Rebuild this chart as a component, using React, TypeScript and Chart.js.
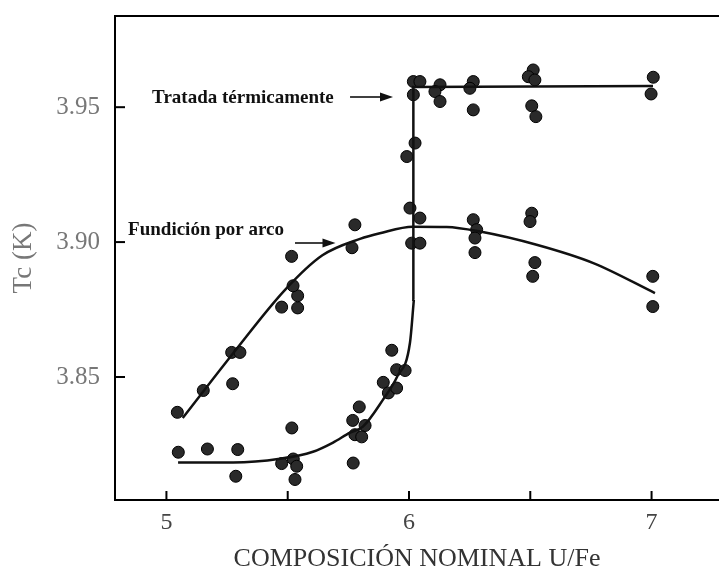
import { useEffect, useRef } from 'react';
import { Chart, registerables } from 'chart.js';

Chart.register(...registerables);

// Tratada térmicamente: measured points
const tratX = [5.049, 5.169, 5.294, 5.286, 5.517, 5.475, 5.523, 5.537, 5.53, 5.77, 5.768, 5.795, 5.819, 5.777, 5.805, 5.894, 5.915, 5.949, 5.929, 5.949, 5.984, 5.991, 6.025, 6.018, 6.045, 6.018, 6.128, 6.107, 6.128, 6.265, 6.251, 6.265, 6.512, 6.492, 6.519, 6.506, 6.523, 7.007, 6.998];
const tratY = [3.8221, 3.8233, 3.8231, 3.8132, 3.8311, 3.8179, 3.8196, 3.8169, 3.812, 3.8181, 3.8339, 3.8389, 3.832, 3.8286, 3.8278, 3.848, 3.8441, 3.8459, 3.8599, 3.8527, 3.8524, 3.9317, 3.9367, 3.9595, 3.9595, 3.9546, 3.9583, 3.9558, 3.9521, 3.9595, 3.957, 3.949, 3.9638, 3.9613, 3.9601, 3.9505, 3.9465, 3.9611, 3.9549];

// Fundición por arco: measured points
const fundX = [5.045, 5.152, 5.269, 5.303, 5.273, 5.475, 5.541, 5.541, 5.522, 5.516, 5.777, 5.765, 6.004, 6.045, 6.011, 6.045, 6.265, 6.279, 6.272, 6.272, 6.506, 6.499, 6.519, 6.51, 7.005, 7.005];
const fundY = [3.8369, 3.845, 3.8591, 3.8591, 3.8475, 3.8759, 3.8756, 3.8801, 3.8838, 3.8947, 3.9064, 3.8979, 3.9126, 3.9089, 3.8996, 3.8996, 3.9083, 3.9046, 3.9015, 3.8961, 3.9107, 3.9076, 3.8924, 3.8873, 3.8873, 3.8761];

// Fitted curves
const tratCurveX = [5.048, 5.275, 5.468, 5.604, 5.687, 5.757, 5.81, 5.893, 5.951, 6.004, 6.02];
const tratCurveY = [3.8183, 3.8183, 3.8197, 3.8223, 3.8257, 3.8294, 3.8316, 3.8416, 3.8501, 3.8627, 3.8786];
const tratStepX = [6.02, 6.018, 7.006];
const tratStepY = [3.8786, 3.9575, 3.9579];
const fundCurveX = [5.067, 5.276, 5.489, 5.643, 5.798, 5.88, 6.016, 6.155, 6.293, 6.526, 6.76, 7.014];
const fundCurveY = [3.8348, 3.8589, 3.8823, 3.8951, 3.9012, 3.9033, 3.9057, 3.9056, 3.9039, 3.899, 3.8922, 3.8811];

const yTickValues = [3.85, 3.9, 3.95];
const xAxisTitle = 'COMPOSICIÓN NOMINAL U/Fe';
const yAxisTitle = 'Tc (K)';
const labelTexts = ['Tratada térmicamente', 'Fundición por arco'];

// annotation placement (data coordinates)
const annotationPos = [
  { tx: 4.941, ty: 3.9534, ax0: 5.757, ax1: 5.934, ay: 3.9538 },
  { tx: 4.842, ty: 3.9046, ax0: 5.53, ax1: 5.697, ay: 3.8997 },
];

const SERIF = '"Liberation Serif", "DejaVu Serif", serif';

const zip = (xs: number[], ys: number[]) => xs.map((x, i) => ({ x, y: ys[i] }));

const zeroPad = (s: any) => {
  s.paddingTop = 0;
  s.paddingBottom = 0;
  s.paddingLeft = 0;
  s.paddingRight = 0;
};

const decorPlugin = {
  id: 'decor',
  afterDraw(chart: any) {
    const { ctx, chartArea } = chart;
    const xs = chart.scales.x;
    const ys = chart.scales.y;
    ctx.save();
    ctx.strokeStyle = '#000';
    ctx.lineWidth = 2;
    xs.ticks.forEach((t: any) => {
      const px = xs.getPixelForValue(t.value);
      ctx.beginPath();
      ctx.moveTo(px, chartArea.bottom);
      ctx.lineTo(px, chartArea.bottom - 9);
      ctx.stroke();
    });
    ys.ticks.forEach((t: any) => {
      const py = ys.getPixelForValue(t.value);
      ctx.beginPath();
      ctx.moveTo(chartArea.left, py);
      ctx.lineTo(chartArea.left + 10, py);
      ctx.stroke();
    });
    ctx.fillStyle = '#111';
    ctx.font = `bold 19px ${SERIF}`;
    ctx.textBaseline = 'middle';
    ctx.textAlign = 'left';
    annotationPos.forEach((a, i) => {
      ctx.fillText(labelTexts[i], xs.getPixelForValue(a.tx), ys.getPixelForValue(a.ty));
      const x0 = xs.getPixelForValue(a.ax0);
      const x1 = xs.getPixelForValue(a.ax1);
      const y = ys.getPixelForValue(a.ay);
      ctx.lineWidth = 1.5;
      ctx.beginPath();
      ctx.moveTo(x0, y);
      ctx.lineTo(x1 - 8, y);
      ctx.stroke();
      ctx.beginPath();
      ctx.moveTo(x1, y);
      ctx.lineTo(x1 - 13, y - 4.5);
      ctx.lineTo(x1 - 13, y + 4.5);
      ctx.closePath();
      ctx.fill();
    });
    ctx.restore();
  },
};

export default function App() {
  const ref = useRef<HTMLCanvasElement | null>(null);
  useEffect(() => {
    document.body.style.margin = '0';
    document.body.style.background = '#fff';
    if (!ref.current) return;
    const lineStyle = { showLine: true, pointRadius: 0, borderColor: '#111', borderWidth: 2.5, fill: false };
    const pointStyle = { showLine: false, pointRadius: 6, pointHoverRadius: 6, backgroundColor: '#2a2a2a', borderColor: '#000', borderWidth: 1 };
    const chart = new Chart(ref.current, {
      type: 'scatter',
      data: {
        datasets: [
          { ...lineStyle, data: zip(tratCurveX, tratCurveY), cubicInterpolationMode: 'monotone' } as any,
          { ...lineStyle, data: zip(tratStepX, tratStepY), tension: 0 } as any,
          { ...lineStyle, data: zip(fundCurveX, fundCurveY), cubicInterpolationMode: 'monotone' } as any,
          { ...pointStyle, data: zip(tratX, tratY) } as any,
          { ...pointStyle, data: zip(fundX, fundY) } as any,
        ],
      },
      options: {
        responsive: false,
        animation: false,
        layout: { padding: 0, autoPadding: false },
        plugins: { legend: { display: false }, tooltip: { enabled: false } },
        scales: {
          x: {
            type: 'linear',
            position: 'bottom',
            min: 4.788,
            max: 7.278,
            border: { display: true, color: '#000', width: 2 },
            grid: { display: false, drawTicks: false },
            ticks: {
              stepSize: 0.5,
              includeBounds: false,
              autoSkip: false,
              maxRotation: 0,
              padding: 8,
              color: '#444',
              font: { family: SERIF, size: 24 },
              callback: (v: any) => (Math.abs(v - Math.round(v)) < 1e-6 ? String(Math.round(v)) : ''),
            },
            title: { display: true, text: xAxisTitle, color: '#333', font: { family: SERIF, size: 26 }, padding: { top: 0, bottom: 0 } },
            afterFit: (s: any) => { s.height = 75; zeroPad(s); },
          },
          x2: {
            type: 'linear',
            position: 'top',
            min: 0,
            max: 1,
            border: { display: true, color: '#000', width: 2 },
            grid: { display: false, drawTicks: false },
            ticks: { display: false },
            afterFit: (s: any) => { s.height = 16; zeroPad(s); },
          },
          y: {
            type: 'linear',
            position: 'left',
            min: 3.8044,
            max: 3.9838,
            border: { display: true, color: '#000', width: 2 },
            grid: { display: false, drawTicks: false },
            afterBuildTicks: (s: any) => { s.ticks = yTickValues.map((v) => ({ value: v })); },
            ticks: {
              padding: 15,
              color: '#777',
              font: { family: SERIF, size: 25 },
              callback: (v: any) => Number(v).toFixed(2),
            },
            title: { display: true, text: yAxisTitle, color: '#777', font: { family: SERIF, size: 27 }, padding: { top: 8, bottom: 0 } },
            afterFit: (s: any) => { s.width = 115; zeroPad(s); },
          },
        },
      } as any,
      plugins: [decorPlugin],
    });
    return () => chart.destroy();
  }, []);
  return (
    <div style={{ width: 719, height: 575, overflow: 'hidden' }}>
      <canvas ref={ref} width={719} height={575} style={{ display: 'block' }} />
    </div>
  );
}
